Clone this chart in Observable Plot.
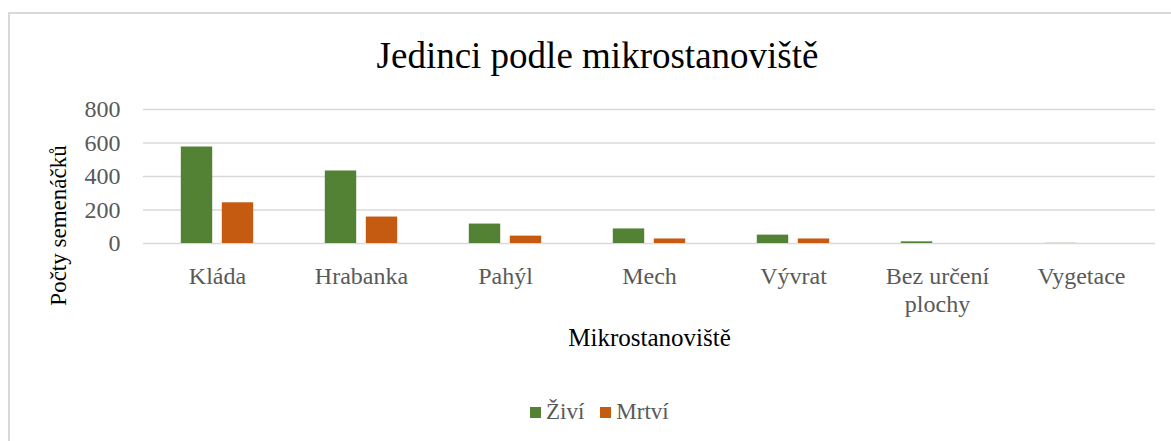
<!DOCTYPE html>
<html>
<head>
<meta charset="utf-8">
<script src="https://cdn.jsdelivr.net/npm/d3@7"></script>
<script src="https://cdn.jsdelivr.net/npm/@observablehq/plot@0.6"></script>
<style>
  html, body { margin: 0; padding: 0; background: #fff; width: 1171px; height: 441px; overflow: hidden; }
  body { position: relative; font-family: "Liberation Serif", "Times New Roman", serif; }
  #frame { position: absolute; left: 8px; top: 12px; width: 1300px; height: 600px; border: 2px solid #d9d9d9; box-sizing: border-box; }
  #title { position: absolute; left: 0; top: 37px; width: 1195px; text-align: center; font-size: 37px; line-height: 37px; color: #000; }
  #chart { position: absolute; left: 0; top: 90px; }
  #chart svg, #chart svg text { font-family: "Liberation Serif", "Times New Roman", serif !important; }
  #legend { position: absolute; left: 530px; top: 399px; font-size: 23px; line-height: 26px; color: #595959; display: flex; align-items: center; }
  .sw { display: inline-block; width: 11px; height: 11px; margin-right: 5px; }
  .item { display: flex; align-items: center; margin-right: 16px; }
</style>
</head>
<body>
<div id="frame"></div>
<div id="title">Jedinci podle mikrostanoviště</div>
<div id="chart"></div>
<div id="legend"></div>
<script>
const categories = ["Kláda", "Hrabanka", "Pahýl", "Mech", "Vývrat", "Bez určení\nplochy", "Vygetace"];
const seriesNames = ["Živí", "Mrtví"];
const seriesColors = ["#548235", "#C55A11"];
const ziviValues = [576, 433, 116, 87, 50, 10, 1];
const mrtviValues = [243, 158, 44, 27, 27, 0, 0];
const yTicks = [0, 200, 400, 600, 800];
const yTitle = "Počty semenáčků";
const xTitle = "Mikrostanoviště";

const ziviData = categories.map((c, i) => ({category: c, value: ziviValues[i]}));
const mrtviData = categories.map((c, i) => ({category: c, value: mrtviValues[i]}));

const serif = "'Liberation Serif', 'Times New Roman', serif";
const inset = 56.3;
const chart = Plot.plot({
  width: 1171,
  height: 310,
  marginLeft: 143,
  marginRight: 16,
  marginTop: 19,
  marginBottom: 157,
  style: {fontFamily: serif, background: "transparent", overflow: "visible"},
  x: {domain: categories, padding: 0},
  y: {domain: [0, 800]},
  marks: [
    Plot.ruleY(yTicks, {stroke: "#d9d9d9", strokeWidth: 1.5}),
    Plot.barY(ziviData, {x: "category", y: "value", fill: seriesColors[0], dx: -20.5, insetLeft: inset, insetRight: inset}),
    Plot.barY(mrtviData, {x: "category", y: "value", fill: seriesColors[1], dx: 20.5, insetLeft: inset, insetRight: inset}),
    Plot.axisX({tickSize: 0, tickPadding: 21, fontSize: 24, fontFamily: serif, fill: "#595959", lineHeight: 1.15, label: null}),
    Plot.axisY({ticks: yTicks, tickSize: 0, tickPadding: 23, fontSize: 24, fontFamily: serif, fill: "#595959", label: null}),
    Plot.text([yTitle], {frameAnchor: "left", rotate: -90, dx: -85, dy: 49, fontSize: 23, fontFamily: serif, fill: "#000", textAnchor: "middle"}),
    Plot.text([xTitle], {frameAnchor: "bottom", dy: 102, fontSize: 25, fontFamily: serif, fill: "#000", textAnchor: "middle"})
  ]
});
document.getElementById("chart").appendChild(chart);

const legend = document.getElementById("legend");
seriesNames.forEach((name, i) => {
  const item = document.createElement("span");
  item.className = "item";
  const sw = document.createElement("span");
  sw.className = "sw";
  sw.style.background = seriesColors[i];
  item.appendChild(sw);
  item.appendChild(document.createTextNode(name));
  legend.appendChild(item);
});
</script>
</body>
</html>
